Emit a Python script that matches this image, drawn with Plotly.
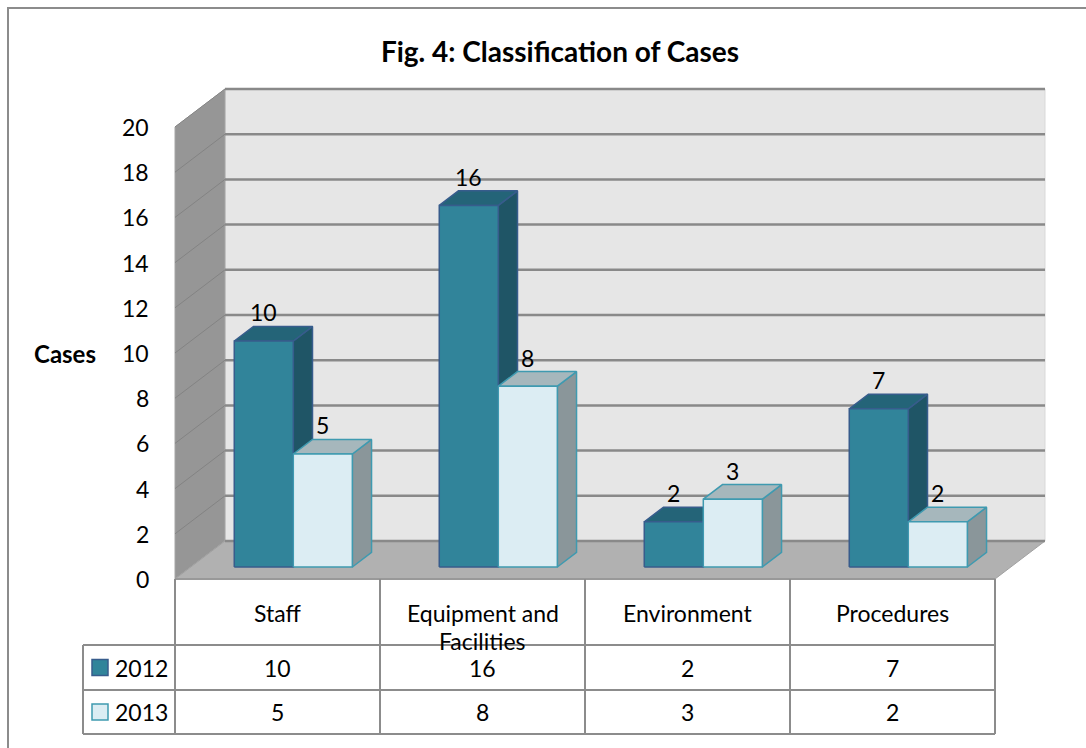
import plotly.graph_objects as go

# ---------------- data ----------------
categories = ["Staff", "Equipment and Facilities", "Environment", "Procedures"]
series_names = ["2012", "2013"]
values_2012 = [10, 16, 2, 7]
values_2013 = [5, 8, 3, 2]
y_ticks = [0, 2, 4, 6, 8, 10, 12, 14, 16, 18, 20]
title_text = "Fig. 4: Classification of Cases"
axis_title = "Cases"

# ---------------- geometry / styles ----------------
W, H = 1086, 748
PX_PER_CAT = 205.0          # horizontal pixels per category slot
PX_PER_UNIT = 22.6          # vertical pixels per value unit
ORIGIN_PX = (175, 579)      # front-left bottom corner of the 3D box (pixels)
X0 = -0.5                   # category coordinate of the box's left edge
DEPTH_PX = (50, 38)         # oblique offset from front plane to back wall
BAR_D0, BAR_D1 = 0.316, 0.70
BAR_W = 0.288
Y_MAX = y_ticks[-1]
FONT = "Lato, 'Open Sans', sans-serif"
FS = 23

COL = {
    "2012": dict(front="#31849a", side="#1f5566", top="#246478", edge="#375c8c"),
    "2013": dict(front="#dcedf3", side="#8a969a", top="#a6b7bc", edge="#3f9ab0"),
}


def proj(x, v, d):
    return (x + d * DEPTH_PX[0] / PX_PER_CAT, v + d * DEPTH_PX[1] / PX_PER_UNIT)


def xpx(px):
    return X0 + (px - ORIGIN_PX[0]) / PX_PER_CAT


def ypx(py):
    return (ORIGIN_PX[1] - py) / PX_PER_UNIT


def path(points):
    return "M " + " L ".join(f"{x:.4f},{y:.4f}" for x, y in points) + " Z"


n = len(categories)
x_left, x_right = X0, X0 + n

fig = go.Figure()
shapes = []
annotations = []

# ---------------- walls & floor ----------------
back = [proj(x_left, 0, 1), proj(x_right, 0, 1), proj(x_right, Y_MAX, 1), proj(x_left, Y_MAX, 1)]
left = [proj(x_left, 0, 0), proj(x_left, 0, 1), proj(x_left, Y_MAX, 1), proj(x_left, Y_MAX, 0)]
floor = [proj(x_left, 0, 0), proj(x_right, 0, 0), proj(x_right, 0, 1), proj(x_left, 0, 1)]
shapes.append(dict(type="path", path=path(back), xref="x", yref="y", layer="below",
                   fillcolor="#e6e6e6", line=dict(color="#d9d9d9", width=1)))
shapes.append(dict(type="path", path=path(left), xref="x", yref="y", layer="below",
                   fillcolor="#969696", line=dict(color="#a6a6a6", width=1)))
shapes.append(dict(type="path", path=path(floor), xref="x", yref="y", layer="below",
                   fillcolor="#b1b1b1", line=dict(color="#a0a0a0", width=1)))

for t in y_ticks:
    a, b = proj(x_left, t, 1), proj(x_right, t, 1)
    shapes.append(dict(type="line", xref="x", yref="y", layer="below",
                       x0=a[0], y0=a[1], x1=b[0], y1=b[1],
                       line=dict(color="#898989", width=2.5)))
    c, e = proj(x_left, t, 0), proj(x_left, t, 1)
    if t > 0:
        shapes.append(dict(type="line", xref="x", yref="y", layer="below",
                           x0=c[0], y0=c[1], x1=e[0], y1=e[1],
                           line=dict(color="#838383", width=1)))
    annotations.append(dict(x=c[0], y=c[1], xref="x", yref="y", text=str(t),
                            showarrow=False, xanchor="right", yanchor="middle",
                            xshift=-24, font=dict(family=FONT, size=FS, color="#000")))

# front floor edge
fa, fb = proj(x_left, 0, 0), proj(x_right, 0, 0)
shapes.append(dict(type="line", xref="x", yref="y", layer="below",
                   x0=fa[0], y0=fa[1], x1=fb[0], y1=fb[1],
                   line=dict(color="#999999", width=2)))

# ---------------- 3D bars ----------------
def add_series(name, vals, offset):
    c = COL[name]
    faces = {"side": ([], []), "top": ([], []), "front": ([], [])}
    for i, v in enumerate(vals):
        xa = i + offset
        xb = xa + BAR_W
        polys = {
            "side": [proj(xb, 0, BAR_D0), proj(xb, 0, BAR_D1), proj(xb, v, BAR_D1), proj(xb, v, BAR_D0)],
            "top": [proj(xa, v, BAR_D0), proj(xb, v, BAR_D0), proj(xb, v, BAR_D1), proj(xa, v, BAR_D1)],
            "front": [proj(xa, 0, BAR_D0), proj(xb, 0, BAR_D0), proj(xb, v, BAR_D0), proj(xa, v, BAR_D0)],
        }
        for k, pts in polys.items():
            pts = pts + [pts[0]]
            faces[k][0].extend([p[0] for p in pts] + [None])
            faces[k][1].extend([p[1] for p in pts] + [None])
        lx = proj((xa + xb) / 2, v, BAR_D0)[0]
        ly = proj((xa + xb) / 2, v, BAR_D1)[1]
        annotations.append(dict(x=lx, y=ly, xref="x", yref="y", text=str(v),
                                showarrow=False, xanchor="center", yanchor="bottom",
                                yshift=-2, font=dict(family=FONT, size=FS, color="#000")))
    for k in ("side", "top", "front"):
        fig.add_trace(go.Scatter(x=faces[k][0], y=faces[k][1], mode="lines",
                                 fill="toself", fillcolor=c[k],
                                 line=dict(color=c["edge"], width=1.5),
                                 name=name, showlegend=False, hoverinfo="skip"))


add_series("2012", values_2012, -BAR_W)
add_series("2013", values_2013, 0.0)

# ---------------- data table ----------------
row_px = [579, 645, 690, 734]   # header top, row lines
label_left_px = 83
tab_line = dict(color="#8c8c8c", width=2)
yr = [ypx(p) for p in row_px]
xl = xpx(label_left_px)

# vertical lines
for k in range(n + 1):
    xv = proj(x_left + k, 0, 0)[0]
    shapes.append(dict(type="line", xref="x", yref="y", x0=xv, x1=xv, y0=yr[0], y1=yr[3], line=tab_line))
shapes.append(dict(type="line", xref="x", yref="y", x0=xl, x1=xl, y0=yr[1], y1=yr[3], line=tab_line))
for r in (1, 2, 3):
    shapes.append(dict(type="line", xref="x", yref="y", x0=xl, x1=x_right, y0=yr[r], y1=yr[r], line=tab_line))

# header: category names (wrapped like the original)
line_gap = 28 / PX_PER_UNIT
for i, cat in enumerate(categories):
    words = cat.split(" ")
    lines = [cat] if len(cat) <= 14 else [" ".join(words[:-1]), words[-1]]
    for j, ln in enumerate(lines):
        annotations.append(dict(x=i, y=ypx(613) - j * line_gap, xref="x", yref="y", text=ln,
                                showarrow=False, xanchor="center", yanchor="middle",
                                font=dict(family=FONT, size=FS, color="#000")))

# series rows
for r, (name, vals) in enumerate(zip(series_names, [values_2012, values_2013])):
    yc = (yr[r + 1] + yr[r + 2]) / 2
    for i, v in enumerate(vals):
        annotations.append(dict(x=i, y=yc, xref="x", yref="y", text=str(v), showarrow=False,
                                xanchor="center", yanchor="middle",
                                font=dict(family=FONT, size=FS, color="#000")))
    c = COL[name]
    sq = 16 / PX_PER_CAT
    sx0 = xpx(92)
    shapes.append(dict(type="rect", xref="x", yref="y", x0=sx0, x1=sx0 + sq,
                       y0=yc - 8 / PX_PER_UNIT, y1=yc + 8 / PX_PER_UNIT,
                       fillcolor=c["front"], line=dict(color=c["edge"], width=1.5)))
    annotations.append(dict(x=xpx(113), y=yc, xref="x", yref="y", text=name, showarrow=False,
                            xanchor="left", yanchor="middle",
                            font=dict(family=FONT, size=FS, color="#000")))

# axis title
annotations.append(dict(x=xpx(98), y=ypx(353), xref="x", yref="y", text=f"<b>{axis_title}</b>",
                        showarrow=False, xanchor="right", yanchor="middle",
                        font=dict(family=FONT, size=24, color="#000")))

# outer chart border
shapes.append(dict(type="rect", xref="paper", yref="paper", x0=8 / W, x1=1.02,
                   y0=-0.02, y1=1 - 8 / H, line=dict(color="#8c8c8c", width=2)))

fig.update_layout(
    width=W, height=H, autosize=False,
    margin=dict(l=0, r=0, t=0, b=0),
    paper_bgcolor="white", plot_bgcolor="white",
    title=dict(text=f"<b>{title_text}</b>", x=560 / W, xanchor="center",
               y=1 - 52 / H, yanchor="middle", xref="paper", yref="container",
               font=dict(family=FONT, size=28, color="#000")),
    xaxis=dict(range=[xpx(0), xpx(W)], visible=False, fixedrange=True),
    yaxis=dict(range=[ypx(H), ypx(0)], visible=False, fixedrange=True),
    shapes=shapes, annotations=annotations, showlegend=False,
)

fig.write_html("out.html", config={"displayModeBar": False},
               post_script="document.body.style.margin='0px';document.body.style.overflow='hidden';")
